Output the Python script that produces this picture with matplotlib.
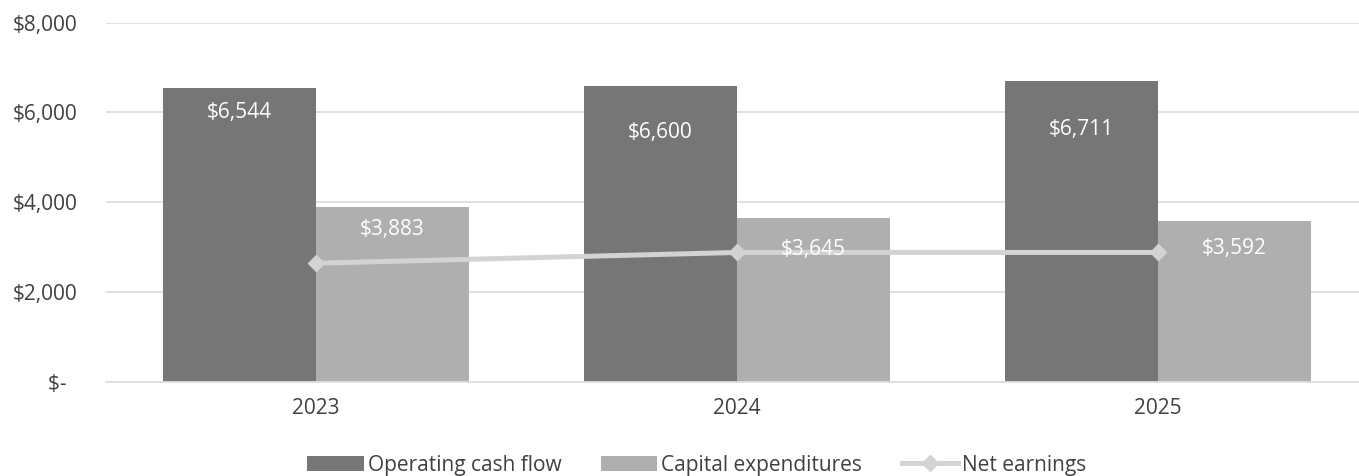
import matplotlib
matplotlib.use("Agg")
import matplotlib.pyplot as plt
import numpy as np
from matplotlib.ticker import FuncFormatter

years = ["2023", "2024", "2025"]
operating_cash_flow = [6544, 6600, 6711]
capital_expenditures = [3883, 3645, 3592]
net_earnings = [2640, 2880, 2880]

# label drop below bar top, in pixels (the source placed them unevenly)
ocf_label_drop = [24, 47, 49]
capex_label_drop = [22, 31, 28]

DARK = "#767676"
LIGHT = "#afafaf"
LINE = "#d3d3d3"
TEXT = "#404040"

plt.rcParams["font.family"] = ["Open Sans", "DejaVu Sans"]

fig = plt.figure(figsize=(13.59, 4.76), dpi=100)
W, H = 1359, 476
# category band is 421 px wide; plot area runs off the right edge of the image
left_px, bottom_px, top_px = 105.5, 381.7, 22.7
ax = fig.add_axes([left_px / W, 1 - bottom_px / H, (W - left_px) / W,
                   (bottom_px - top_px) / H])

x = np.arange(len(years))
bw = 153 / 421
b1 = ax.bar(x - bw / 2, operating_cash_flow, bw, color=DARK, label="Operating cash flow", zorder=2)
b2 = ax.bar(x + bw / 2, capital_expenditures, bw, color=LIGHT, label="Capital expenditures", zorder=2)
ln, = ax.plot(x, net_earnings, color=LINE, lw=3.6, marker="D", ms=8, mec=LINE, mfc=LINE,
              label="Net earnings", zorder=3)

for bars, drops in ((b1, ocf_label_drop), (b2, capex_label_drop)):
    for rect, d in zip(bars, drops):
        v = rect.get_height()
        ax.annotate(f"${v:,.0f}", (rect.get_x() + rect.get_width() / 2, v),
                    xytext=(0, -d * 0.72), textcoords="offset points",
                    ha="center", va="center", color="white", fontsize=15, zorder=4)

ax.set_xlim(-0.5, 2.5 - (1368.5 - W) / 421)
ax.set_ylim(0, 8000)
ax.set_yticks([0, 2000, 4000, 6000, 8000])
ax.yaxis.set_major_formatter(FuncFormatter(lambda v, p: "$-  " if v == 0 else f"${v:,.0f}"))
ax.set_xticks(x)
ax.set_xticklabels(years)
ax.tick_params(length=0, labelsize=15, colors=TEXT)
ax.tick_params(axis="y", pad=20)
ax.tick_params(axis="x", pad=12)
ax.grid(axis="y", color="#dedede", lw=1.3, zorder=0)
ax.set_axisbelow(True)
for s in ("top", "right", "left"):
    ax.spines[s].set_visible(False)
ax.spines["bottom"].set_color("#dedede")
ax.spines["bottom"].set_linewidth(1.3)

fig.legend([b1, b2, ln], ["Operating cash flow", "Capital expenditures", "Net earnings"],
           loc="center", bbox_to_anchor=(697 / W, 1 - 465 / H), ncol=3, frameon=False,
           fontsize=15, handlelength=2.7, handleheight=0.7, columnspacing=1.9,
           handletextpad=0.2, labelcolor=TEXT)

fig.savefig("out.png", dpi=100, facecolor="white")
